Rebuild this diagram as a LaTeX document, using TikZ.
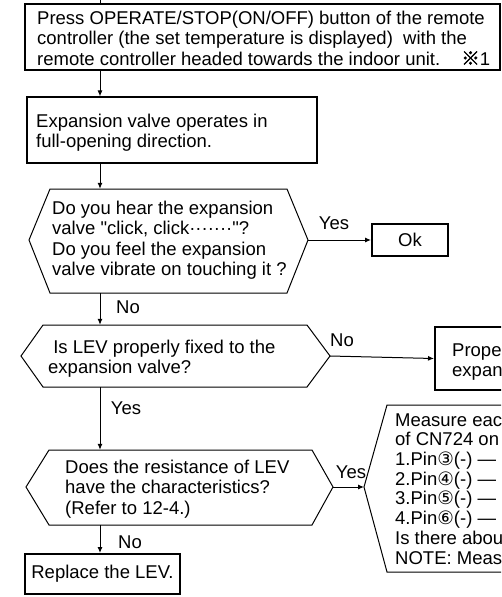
\documentclass[tikz,border=0pt]{standalone}
\usepackage{fontspec}
\setmainfont{Liberation Sans}
\newfontfamily\symf{DejaVu Sans}
\newfontfamily\cjkf{Noto Sans CJK JP}[FakeBold=2]
\usetikzlibrary{arrows.meta,fit}
\tikzset{
  box/.style={draw, line width=1.1pt, inner sep=0pt},
  thickbox/.style={draw, line width=2pt, inner sep=0pt},
  ghost/.style={inner sep=0pt},
  hex/.style={draw, line width=1pt},
  txt/.style={align=left, inner sep=0pt, anchor=base west},
  lbl/.style={inner sep=0pt},
  conn/.style={draw, line width=1pt, -{Latex[length=6pt,width=5pt]}},
  plain/.style={draw, line width=1pt},
}
\newcommand{\cd}[1]{{\symf #1}}
\begin{document}
\begin{tikzpicture}[x=1pt,y=-1pt,font=\fontsize{18.5}{20.5}\selectfont]
\useasboundingbox (0,0) rectangle (501,597);
\clip (0,0) rectangle (501,597);
\coordinate (ax) at (100,0);
\coordinate (top) at (100,0);
% top box
\node[box, fit={(25,4)(500,70)}] (b1) {};
\node[txt] (t1) at (37,65) {Press OPERATE/STOP(ON/OFF) button of the remote\\controller (the set temperature is displayed)\ \ with the\\remote controller headed towards the indoor unit.\hspace{21pt}{\cjkf ※}1};
% second box
\node[box, fit={(27,97)(317,163)}] (b2) {};
\node[txt] (t2) at (36,147.5) {Expansion valve operates in\\full-opening direction.};
% hexagon 1
\coordinate (h1L) at (29,240);
\coordinate (h1R) at (308,240);
\node[ghost, fit={(50,189)(287,293)}] (h1) {};
\draw[hex] (h1L) -- (50,189) -- (287,189) -- (h1R) -- (287,293) -- (50,293) -- cycle;
\node[txt] (t3) at (52,275.5) {Do you hear the expansion\\valve \textquotedbl click, click\textperiodcentered\textperiodcentered\textperiodcentered\textperiodcentered\textperiodcentered\textperiodcentered\textperiodcentered\textquotedbl ?\\Do you feel the expansion\\valve vibrate on touching it ?};
% Ok
\node[thickbox, minimum width=76, minimum height=32] (ok) at (410,240) {Ok};
% hexagon 2
\coordinate (h2L) at (21,356);
\coordinate (h2R) at (330,356);
\node[ghost, fit={(43,325)(307,387)}] (h2) {};
\draw[hex] (h2L) -- (43,325) -- (307,325) -- (h2R) -- (307,387) -- (43,387) -- cycle;
\node[txt] (t4) at (48,373.5) {\ Is LEV properly fixed to the\\expansion valve?};
% Prope box
\node[thickbox, fit={(435,327)(560,390)}] (prope) {};
\node[txt] (t5) at (452,376.5) {Prope\\expan};
% hexagon 3
\coordinate (h3L) at (26,487);
\coordinate (h3R) at (333,487);
\node[ghost, fit={(49,450)(312,525)}] (h3) {};
\draw[hex] (h3L) -- (49,450) -- (312,450) -- (h3R) -- (312,525) -- (49,525) -- cycle;
\node[txt] (t6) at (65,514) {Does the resistance of LEV\\have the characteristics?\\(Refer to 12-4.)};
% measure shape
\coordinate (mL) at (364,487);
\draw[hex] (560,405) -- (387,405) -- (mL) -- (387,572) -- (560,572);
\node[txt, font=\fontsize{18.5}{19.7}\selectfont] (t7) at (395,564) {Measure eac\\of CN724 on\\1.Pin\cd{③}(-) --- P\\2.Pin\cd{④}(-) --- P\\3.Pin\cd{⑤}(-) --- P\\4.Pin\cd{⑥}(-) --- P\\Is there abou\\NOTE: Meas};
% replace
\node[thickbox, fit={(25,554)(180,594)}] (rep) {};
\node[lbl] (t8) at (102.5,574) {Replace the LEV.};
% connectors
\draw[plain] (top) -- (b1.north -| ax);
\draw[conn] (b1.south -| ax) -- (b2.north -| ax);
\draw[conn] (b2.south -| ax) -- (h1.north -| ax);
\draw[conn] (h1R) -- (ok.west);
\draw[conn] (h1.south -| ax) -- (h2.north -| ax);
\draw[conn] (h2R) -- (prope.west);
\draw[conn] (h2.south -| ax) -- (h3.north -| ax);
\draw[conn] (h3R) -- (mL);
\draw[conn] (h3.south -| ax) -- (rep.north -| ax);
% labels
\node[lbl] (y1) at (334,223) {Yes};
\node[lbl] (n1) at (128,307) {No};
\node[lbl] (n2) at (342,340) {No};
\node[lbl] (y2) at (126,408) {Yes};
\node[lbl] (y3) at (351,472) {Yes};
\node[lbl] (n3) at (130,542) {No};
\end{tikzpicture}
\end{document}
